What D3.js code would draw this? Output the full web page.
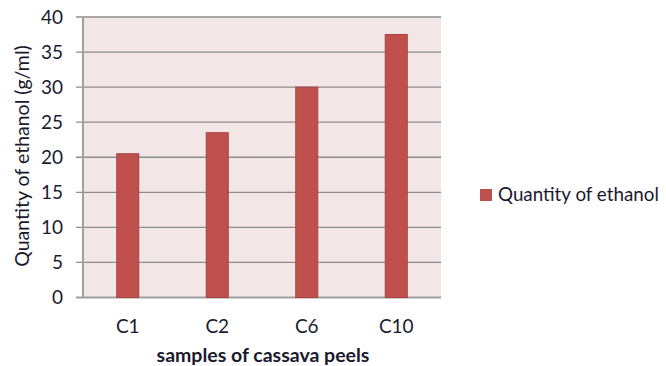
<!DOCTYPE html>
<html><head><meta charset="utf-8">
<script src="https://cdn.jsdelivr.net/npm/d3@7"></script>
<style>body{margin:0;background:#fff}svg{display:block}text{font-family:Lato,"Open Sans",sans-serif;fill:#1a1a2e}</style>
</head><body>
<script>
const categories = ["C1","C2","C6","C10"];
const values = [20.5, 23.5, 30, 37.5];
const yTicks = [0,5,10,15,20,25,30,35,40];
const seriesName = "Quantity of ethanol";
const xTitle = "samples of cassava peels";
const yTitle = "Quantity of ethanol (g/ml)";

const W=666,H=366;
const m={l:83,r:441,t:17,b:297.5};
const svg=d3.select("body").append("svg").attr("width",W).attr("height",H);
const x=d3.scaleBand().domain(categories).range([m.l,m.r]);
const y=d3.scaleLinear().domain([0,40]).range([m.b,m.t]);

svg.append("rect").attr("x",m.l).attr("y",m.t).attr("width",m.r-m.l).attr("height",m.b-m.t).attr("fill","#f2e6e6");
svg.selectAll(".grid").data(yTicks).join("line")
 .attr("x1",76).attr("x2",m.r).attr("y1",d=>y(d)).attr("y2",d=>y(d))
 .attr("stroke",d=>d===0?"#a0a0a0":"#8c8c8c").attr("stroke-width",d=>d===0?2:1.3);
svg.append("line").attr("x1",m.l).attr("x2",m.l).attr("y1",m.t).attr("y2",m.b).attr("stroke","#a0a0a0").attr("stroke-width",2);

const bw=22;
svg.selectAll(".bar").data(values).join("rect")
 .attr("x",(d,i)=>x(categories[i])+x.bandwidth()/2-bw/2)
 .attr("y",d=>y(d)).attr("width",bw).attr("height",d=>y(0)-y(d))
 .attr("fill","#c0504d").attr("stroke","#a8423f").attr("stroke-width",1);

svg.selectAll(".yl").data(yTicks).join("text")
 .attr("x",63).attr("y",d=>y(d)).attr("dy","0.36em").attr("text-anchor","end")
 .attr("font-size",19).text(d=>d);
svg.selectAll(".xl").data(categories).join("text")
 .attr("x",d=>x(d)+x.bandwidth()/2).attr("y",333).attr("text-anchor","middle")
 .attr("font-size",19).text(d=>d);
svg.append("text").attr("x",263).attr("y",362).attr("text-anchor","middle")
 .attr("font-size",19.5).attr("font-weight","bold").text(xTitle);
svg.append("text").attr("transform","translate(29,156) rotate(-90)").attr("text-anchor","middle")
 .attr("font-size",19.5).text(yTitle);

svg.append("rect").attr("x",480).attr("y",189).attr("width",12).attr("height",12).attr("fill","#c0504d");
svg.append("text").attr("x",498).attr("y",201).attr("font-size",18.8).text(seriesName);
</script>
</body></html>
